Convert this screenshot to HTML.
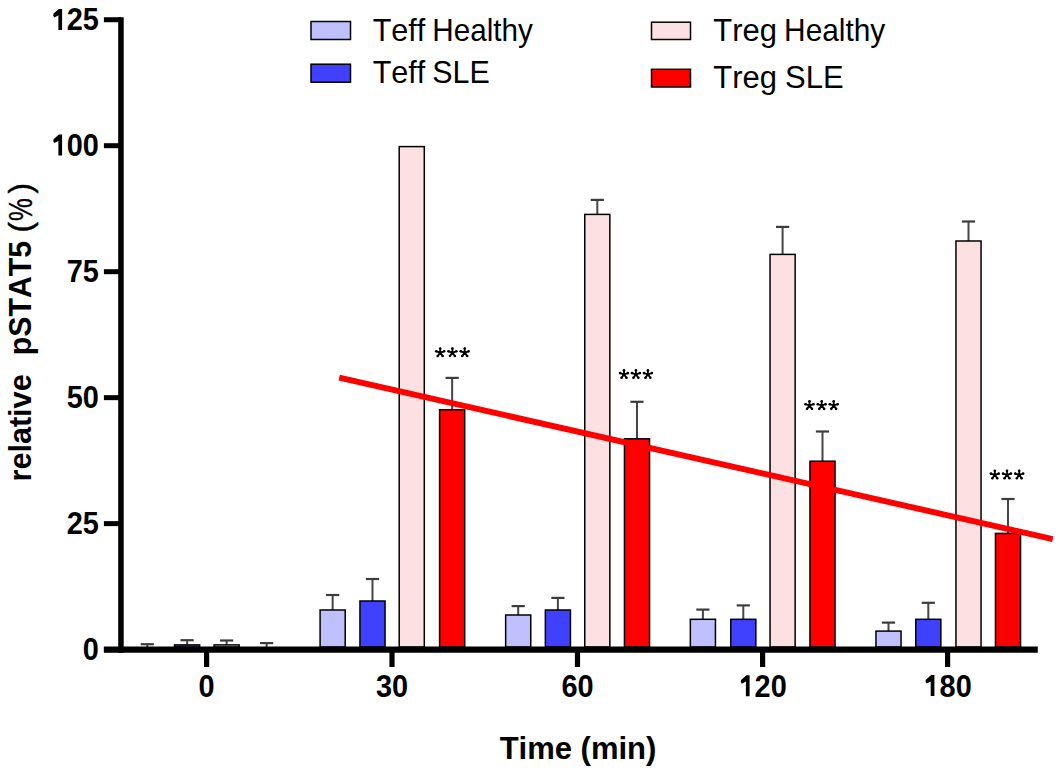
<!DOCTYPE html>
<html><head><meta charset="utf-8"><style>
html,body{margin:0;padding:0;background:#fff;}
svg{display:block;}
text{font-family:"Liberation Sans",sans-serif;fill:#000;font-kerning:none;}
.tl{font-size:30px;font-weight:bold;}
.ax{font-size:32px;font-weight:bold;}
.axx{font-size:31px;font-weight:bold;}
.axy{font-size:31.3px;font-weight:bold;}
.lg{font-size:31px;}
.st{font-size:30px;font-weight:bold;}
</style></head><body>
<svg width="1063" height="774" viewBox="0 0 1063 774">
<rect width="1063" height="774" fill="#fff"/>
<!-- legend -->
<rect x="311" y="21.5" width="39.5" height="18" fill="#C0C0FF" stroke="#000" stroke-width="1.5"/>
<text transform="translate(372.7,40.6) scale(0.985,1.015)" class="lg">Teff</text>
<text transform="translate(432.3,40.6) scale(0.957,1.015)" class="lg">Healthy</text>
<rect x="311" y="64.2" width="39.5" height="18" fill="#4040FF" stroke="#000" stroke-width="1.5"/>
<text transform="translate(372.7,83) scale(0.985,1.015)" class="lg">Teff</text>
<text transform="translate(432.3,83) scale(0.982,1.015)" class="lg">SLE</text>
<rect x="651.5" y="22.2" width="39" height="17.3" fill="#FDE0E1" stroke="#000" stroke-width="1.5"/>
<text transform="translate(713.2,40.6) scale(1.0,1.015)" class="lg">Treg</text>
<text transform="translate(784.1,40.6) scale(0.963,1.015)" class="lg">Healthy</text>
<rect x="651.5" y="69.3" width="39" height="17.7" fill="#FF0000" stroke="#000" stroke-width="1.5"/>
<text transform="translate(713.2,88.4) scale(1.0,1.015)" class="lg">Treg</text>
<text transform="translate(785,88.4) scale(1.0,1.015)" class="lg">SLE</text>
<!-- bars -->
<line x1="147.30" y1="644.20" x2="147.30" y2="647.00" stroke="#454545" stroke-width="2"/>
<line x1="140.70" y1="644.20" x2="153.90" y2="644.20" stroke="#3c3c3c" stroke-width="2.2"/>
<line x1="187.10" y1="640.20" x2="187.10" y2="644.90" stroke="#454545" stroke-width="2"/>
<line x1="180.50" y1="640.20" x2="193.70" y2="640.20" stroke="#3c3c3c" stroke-width="2.2"/>
<rect x="174.55" y="644.90" width="25.10" height="2.10" fill="#4040FF" stroke="#000" stroke-width="1.5"/>
<line x1="226.60" y1="640.50" x2="226.60" y2="644.90" stroke="#454545" stroke-width="2"/>
<line x1="220.00" y1="640.50" x2="233.20" y2="640.50" stroke="#3c3c3c" stroke-width="2.2"/>
<rect x="214.05" y="644.90" width="25.10" height="2.10" fill="#FDE0E1" stroke="#000" stroke-width="1.5"/>
<line x1="266.60" y1="643.10" x2="266.60" y2="647.00" stroke="#454545" stroke-width="2"/>
<line x1="260.00" y1="643.10" x2="273.20" y2="643.10" stroke="#3c3c3c" stroke-width="2.2"/>
<line x1="332.65" y1="595.00" x2="332.65" y2="610.00" stroke="#454545" stroke-width="2"/>
<line x1="326.05" y1="595.00" x2="339.25" y2="595.00" stroke="#3c3c3c" stroke-width="2.2"/>
<rect x="320.10" y="610.00" width="25.10" height="37.00" fill="#C0C0FF" stroke="#000" stroke-width="1.5"/>
<line x1="372.50" y1="579.00" x2="372.50" y2="601.00" stroke="#454545" stroke-width="2"/>
<line x1="365.90" y1="579.00" x2="379.10" y2="579.00" stroke="#3c3c3c" stroke-width="2.2"/>
<rect x="359.95" y="601.00" width="25.10" height="46.00" fill="#4040FF" stroke="#000" stroke-width="1.5"/>
<rect x="399.20" y="146.60" width="25.10" height="500.40" fill="#FDE0E1" stroke="#000" stroke-width="1.5"/>
<line x1="452.15" y1="377.90" x2="452.15" y2="409.70" stroke="#454545" stroke-width="2"/>
<line x1="445.55" y1="377.90" x2="458.75" y2="377.90" stroke="#3c3c3c" stroke-width="2.2"/>
<rect x="439.60" y="409.70" width="25.10" height="237.30" fill="#FF0000" stroke="#000" stroke-width="1.5"/>
<line x1="518.20" y1="606.10" x2="518.20" y2="615.00" stroke="#454545" stroke-width="2"/>
<line x1="511.60" y1="606.10" x2="524.80" y2="606.10" stroke="#3c3c3c" stroke-width="2.2"/>
<rect x="505.65" y="615.00" width="25.10" height="32.00" fill="#C0C0FF" stroke="#000" stroke-width="1.5"/>
<line x1="557.90" y1="597.90" x2="557.90" y2="610.00" stroke="#454545" stroke-width="2"/>
<line x1="551.30" y1="597.90" x2="564.50" y2="597.90" stroke="#3c3c3c" stroke-width="2.2"/>
<rect x="545.35" y="610.00" width="25.10" height="37.00" fill="#4040FF" stroke="#000" stroke-width="1.5"/>
<line x1="597.30" y1="199.90" x2="597.30" y2="214.40" stroke="#454545" stroke-width="2"/>
<line x1="590.70" y1="199.90" x2="603.90" y2="199.90" stroke="#3c3c3c" stroke-width="2.2"/>
<rect x="584.75" y="214.40" width="25.10" height="432.60" fill="#FDE0E1" stroke="#000" stroke-width="1.5"/>
<line x1="637.00" y1="401.80" x2="637.00" y2="438.80" stroke="#454545" stroke-width="2"/>
<line x1="630.40" y1="401.80" x2="643.60" y2="401.80" stroke="#3c3c3c" stroke-width="2.2"/>
<rect x="624.45" y="438.80" width="25.10" height="208.20" fill="#FF0000" stroke="#000" stroke-width="1.5"/>
<line x1="702.90" y1="609.60" x2="702.90" y2="619.30" stroke="#454545" stroke-width="2"/>
<line x1="696.30" y1="609.60" x2="709.50" y2="609.60" stroke="#3c3c3c" stroke-width="2.2"/>
<rect x="690.35" y="619.30" width="25.10" height="27.70" fill="#C0C0FF" stroke="#000" stroke-width="1.5"/>
<line x1="743.30" y1="605.40" x2="743.30" y2="619.30" stroke="#454545" stroke-width="2"/>
<line x1="736.70" y1="605.40" x2="749.90" y2="605.40" stroke="#3c3c3c" stroke-width="2.2"/>
<rect x="730.75" y="619.30" width="25.10" height="27.70" fill="#4040FF" stroke="#000" stroke-width="1.5"/>
<line x1="782.60" y1="226.90" x2="782.60" y2="254.40" stroke="#454545" stroke-width="2"/>
<line x1="776.00" y1="226.90" x2="789.20" y2="226.90" stroke="#3c3c3c" stroke-width="2.2"/>
<rect x="770.05" y="254.40" width="25.10" height="392.60" fill="#FDE0E1" stroke="#000" stroke-width="1.5"/>
<line x1="822.50" y1="431.50" x2="822.50" y2="461.20" stroke="#454545" stroke-width="2"/>
<line x1="815.90" y1="431.50" x2="829.10" y2="431.50" stroke="#3c3c3c" stroke-width="2.2"/>
<rect x="809.95" y="461.20" width="25.10" height="185.80" fill="#FF0000" stroke="#000" stroke-width="1.5"/>
<line x1="888.50" y1="622.60" x2="888.50" y2="631.10" stroke="#454545" stroke-width="2"/>
<line x1="881.90" y1="622.60" x2="895.10" y2="622.60" stroke="#3c3c3c" stroke-width="2.2"/>
<rect x="875.95" y="631.10" width="25.10" height="15.90" fill="#C0C0FF" stroke="#000" stroke-width="1.5"/>
<line x1="928.30" y1="602.80" x2="928.30" y2="619.30" stroke="#454545" stroke-width="2"/>
<line x1="921.70" y1="602.80" x2="934.90" y2="602.80" stroke="#3c3c3c" stroke-width="2.2"/>
<rect x="915.75" y="619.30" width="25.10" height="27.70" fill="#4040FF" stroke="#000" stroke-width="1.5"/>
<line x1="968.50" y1="221.50" x2="968.50" y2="241.00" stroke="#454545" stroke-width="2"/>
<line x1="961.90" y1="221.50" x2="975.10" y2="221.50" stroke="#3c3c3c" stroke-width="2.2"/>
<rect x="955.95" y="241.00" width="25.10" height="406.00" fill="#FDE0E1" stroke="#000" stroke-width="1.5"/>
<line x1="1008.00" y1="499.00" x2="1008.00" y2="533.40" stroke="#454545" stroke-width="2"/>
<line x1="1001.40" y1="499.00" x2="1014.60" y2="499.00" stroke="#3c3c3c" stroke-width="2.2"/>
<rect x="995.45" y="533.40" width="25.10" height="113.60" fill="#FF0000" stroke="#000" stroke-width="1.5"/>
<!-- trend line -->
<line x1="339.2" y1="377.7" x2="1052.7" y2="539.1" stroke="#FF0000" stroke-width="5.9"/>
<!-- stars -->
<path d="M440.20 352.60L440.20 348.45M440.20 352.60L444.15 351.32M440.20 352.60L442.64 355.96M440.20 352.60L437.76 355.96M440.20 352.60L436.25 351.32M452.40 352.60L452.40 348.45M452.40 352.60L456.35 351.32M452.40 352.60L454.84 355.96M452.40 352.60L449.96 355.96M452.40 352.60L448.45 351.32M464.70 352.60L464.70 348.45M464.70 352.60L468.65 351.32M464.70 352.60L467.14 355.96M464.70 352.60L462.26 355.96M464.70 352.60L460.75 351.32M624.00 374.40L624.00 370.25M624.00 374.40L627.95 373.12M624.00 374.40L626.44 377.76M624.00 374.40L621.56 377.76M624.00 374.40L620.05 373.12M635.90 374.40L635.90 370.25M635.90 374.40L639.85 373.12M635.90 374.40L638.34 377.76M635.90 374.40L633.46 377.76M635.90 374.40L631.95 373.12M647.90 374.40L647.90 370.25M647.90 374.40L651.85 373.12M647.90 374.40L650.34 377.76M647.90 374.40L645.46 377.76M647.90 374.40L643.95 373.12M809.50 405.50L809.50 401.35M809.50 405.50L813.45 404.22M809.50 405.50L811.94 408.86M809.50 405.50L807.06 408.86M809.50 405.50L805.55 404.22M821.70 405.50L821.70 401.35M821.70 405.50L825.65 404.22M821.70 405.50L824.14 408.86M821.70 405.50L819.26 408.86M821.70 405.50L817.75 404.22M833.70 405.50L833.70 401.35M833.70 405.50L837.65 404.22M833.70 405.50L836.14 408.86M833.70 405.50L831.26 408.86M833.70 405.50L829.75 404.22M994.80 474.90L994.80 470.75M994.80 474.90L998.75 473.62M994.80 474.90L997.24 478.26M994.80 474.90L992.36 478.26M994.80 474.90L990.85 473.62M1007.00 474.90L1007.00 470.75M1007.00 474.90L1010.95 473.62M1007.00 474.90L1009.44 478.26M1007.00 474.90L1004.56 478.26M1007.00 474.90L1003.05 473.62M1019.20 474.90L1019.20 470.75M1019.20 474.90L1023.15 473.62M1019.20 474.90L1021.64 478.26M1019.20 474.90L1016.76 478.26M1019.20 474.90L1015.25 473.62" stroke="#000" stroke-width="1.8" stroke-linecap="round" fill="none"/><g fill="#000"><circle cx="440.20" cy="348.45" r="1.3"/><circle cx="444.15" cy="351.32" r="1.3"/><circle cx="442.64" cy="355.96" r="1.3"/><circle cx="437.76" cy="355.96" r="1.3"/><circle cx="436.25" cy="351.32" r="1.3"/><circle cx="440.20" cy="352.60" r="1.7"/><circle cx="452.40" cy="348.45" r="1.3"/><circle cx="456.35" cy="351.32" r="1.3"/><circle cx="454.84" cy="355.96" r="1.3"/><circle cx="449.96" cy="355.96" r="1.3"/><circle cx="448.45" cy="351.32" r="1.3"/><circle cx="452.40" cy="352.60" r="1.7"/><circle cx="464.70" cy="348.45" r="1.3"/><circle cx="468.65" cy="351.32" r="1.3"/><circle cx="467.14" cy="355.96" r="1.3"/><circle cx="462.26" cy="355.96" r="1.3"/><circle cx="460.75" cy="351.32" r="1.3"/><circle cx="464.70" cy="352.60" r="1.7"/><circle cx="624.00" cy="370.25" r="1.3"/><circle cx="627.95" cy="373.12" r="1.3"/><circle cx="626.44" cy="377.76" r="1.3"/><circle cx="621.56" cy="377.76" r="1.3"/><circle cx="620.05" cy="373.12" r="1.3"/><circle cx="624.00" cy="374.40" r="1.7"/><circle cx="635.90" cy="370.25" r="1.3"/><circle cx="639.85" cy="373.12" r="1.3"/><circle cx="638.34" cy="377.76" r="1.3"/><circle cx="633.46" cy="377.76" r="1.3"/><circle cx="631.95" cy="373.12" r="1.3"/><circle cx="635.90" cy="374.40" r="1.7"/><circle cx="647.90" cy="370.25" r="1.3"/><circle cx="651.85" cy="373.12" r="1.3"/><circle cx="650.34" cy="377.76" r="1.3"/><circle cx="645.46" cy="377.76" r="1.3"/><circle cx="643.95" cy="373.12" r="1.3"/><circle cx="647.90" cy="374.40" r="1.7"/><circle cx="809.50" cy="401.35" r="1.3"/><circle cx="813.45" cy="404.22" r="1.3"/><circle cx="811.94" cy="408.86" r="1.3"/><circle cx="807.06" cy="408.86" r="1.3"/><circle cx="805.55" cy="404.22" r="1.3"/><circle cx="809.50" cy="405.50" r="1.7"/><circle cx="821.70" cy="401.35" r="1.3"/><circle cx="825.65" cy="404.22" r="1.3"/><circle cx="824.14" cy="408.86" r="1.3"/><circle cx="819.26" cy="408.86" r="1.3"/><circle cx="817.75" cy="404.22" r="1.3"/><circle cx="821.70" cy="405.50" r="1.7"/><circle cx="833.70" cy="401.35" r="1.3"/><circle cx="837.65" cy="404.22" r="1.3"/><circle cx="836.14" cy="408.86" r="1.3"/><circle cx="831.26" cy="408.86" r="1.3"/><circle cx="829.75" cy="404.22" r="1.3"/><circle cx="833.70" cy="405.50" r="1.7"/><circle cx="994.80" cy="470.75" r="1.3"/><circle cx="998.75" cy="473.62" r="1.3"/><circle cx="997.24" cy="478.26" r="1.3"/><circle cx="992.36" cy="478.26" r="1.3"/><circle cx="990.85" cy="473.62" r="1.3"/><circle cx="994.80" cy="474.90" r="1.7"/><circle cx="1007.00" cy="470.75" r="1.3"/><circle cx="1010.95" cy="473.62" r="1.3"/><circle cx="1009.44" cy="478.26" r="1.3"/><circle cx="1004.56" cy="478.26" r="1.3"/><circle cx="1003.05" cy="473.62" r="1.3"/><circle cx="1007.00" cy="474.90" r="1.7"/><circle cx="1019.20" cy="470.75" r="1.3"/><circle cx="1023.15" cy="473.62" r="1.3"/><circle cx="1021.64" cy="478.26" r="1.3"/><circle cx="1016.76" cy="478.26" r="1.3"/><circle cx="1015.25" cy="473.62" r="1.3"/><circle cx="1019.20" cy="474.90" r="1.7"/></g>
<!-- axes -->
<line x1="120.95" y1="17.2" x2="120.95" y2="652.7" stroke="#000" stroke-width="5.5"/>
<line x1="103.9" y1="649.55" x2="1037.8" y2="649.55" stroke="#000" stroke-width="6.3"/>
<line x1="103.9" y1="19.73" x2="121" y2="19.73" stroke="#000" stroke-width="5"/><text transform="translate(98.8,30.03) scale(0.964,1.045)" text-anchor="end" class="tl"><tspan style="fill:none">1</tspan>25</text><line x1="103.9" y1="145.70" x2="121" y2="145.70" stroke="#000" stroke-width="5"/><text transform="translate(98.8,156.00) scale(0.964,1.045)" text-anchor="end" class="tl"><tspan style="fill:none">1</tspan>00</text><line x1="103.9" y1="271.68" x2="121" y2="271.68" stroke="#000" stroke-width="5"/><text transform="translate(98.8,281.98) scale(0.964,1.045)" text-anchor="end" class="tl">75</text><line x1="103.9" y1="397.65" x2="121" y2="397.65" stroke="#000" stroke-width="5"/><text transform="translate(98.8,407.95) scale(0.964,1.045)" text-anchor="end" class="tl">50</text><line x1="103.9" y1="523.62" x2="121" y2="523.62" stroke="#000" stroke-width="5"/><text transform="translate(98.8,533.92) scale(0.964,1.045)" text-anchor="end" class="tl">25</text><line x1="103.9" y1="649.60" x2="121" y2="649.60" stroke="#000" stroke-width="5"/><text transform="translate(98.8,659.90) scale(0.964,1.045)" text-anchor="end" class="tl">0</text>
<line x1="206.60" y1="650" x2="206.60" y2="667" stroke="#000" stroke-width="5.2"/><text transform="translate(206.60,696.5) scale(0.964,1.045)" text-anchor="middle" class="tl">0</text><line x1="392.00" y1="650" x2="392.00" y2="667" stroke="#000" stroke-width="5.2"/><text transform="translate(392.00,696.5) scale(0.964,1.045)" text-anchor="middle" class="tl">30</text><line x1="577.50" y1="650" x2="577.50" y2="667" stroke="#000" stroke-width="5.2"/><text transform="translate(577.50,696.5) scale(0.964,1.045)" text-anchor="middle" class="tl">60</text><line x1="762.60" y1="650" x2="762.60" y2="667" stroke="#000" stroke-width="5.2"/><text transform="translate(762.60,696.5) scale(0.964,1.045)" text-anchor="middle" class="tl"><tspan style="fill:none">1</tspan>20</text><line x1="947.60" y1="650" x2="947.60" y2="667" stroke="#000" stroke-width="5.2"/><text transform="translate(947.60,696.5) scale(0.964,1.045)" text-anchor="middle" class="tl"><tspan style="fill:none">1</tspan>80</text><path fill="#000" d="M62.10 29.90L62.10 9.00L58.90 9.00L53.60 13.60L53.20 15.70L54.40 17.40L58.40 15.30L58.40 29.90ZM62.10 155.50L62.10 134.60L58.90 134.60L53.60 139.20L53.20 141.30L54.40 143.00L58.40 140.90L58.40 155.50ZM749.60 696.20L749.60 675.30L746.40 675.30L741.10 679.90L740.70 682.00L741.90 683.70L745.90 681.60L745.90 696.20ZM934.40 696.00L934.40 675.10L931.20 675.10L925.90 679.70L925.50 681.80L926.70 683.50L930.70 681.40L930.70 696.00Z"/>
<text x="578" y="759.1" text-anchor="middle" class="axx">Time (min)</text>
<text transform="translate(31.1,481.5) rotate(-90) scale(0.978,1)" class="axy">relative</text>
<text transform="translate(31.1,355.3) rotate(-90) scale(0.969,1)" class="axy">pSTAT5</text>
<text transform="translate(31.1,232.6) rotate(-90)" class="axy" style="font-weight:normal;stroke:#000;stroke-width:0.5">(</text>
<text transform="translate(32.1,221.0) rotate(-90) scale(0.82,1.07)" class="axy" style="font-weight:normal;stroke:#000;stroke-width:0.3">%</text>
<text transform="translate(31.1,193.6) rotate(-90)" class="axy" style="font-weight:normal;stroke:#000;stroke-width:0.5">)</text>
</svg>
</body></html>
